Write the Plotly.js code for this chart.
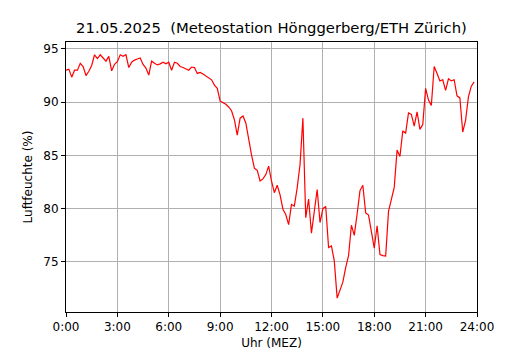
<!DOCTYPE html>
<html>
<head>
<meta charset="utf-8">
<script src="https://cdn.plot.ly/plotly-3.0.1.min.js"></script>
<style>html,body{margin:0;padding:0;background:#fff;}#chart{width:530px;height:350px;}</style>
</head>
<body>
<div id="chart"></div>
<script>
// 10-minute readings, 0:00 .. 23:50
const stepMinutes = 10;
const humidity = [
  93.0, 93.1, 92.35, 93.0, 93.0, 93.65, 93.35, 92.5, 92.9, 93.45, 94.45, 94.1,
  94.45, 94.1, 93.85, 94.3, 92.95, 93.55, 93.8, 94.45, 94.3, 94.45, 93.25, 93.75,
  93.95, 94.05, 94.15, 93.55, 93.2, 92.55, 93.85, 93.65, 93.5, 93.6, 93.75, 93.6,
  93.75, 93.0, 93.75, 93.65, 93.35, 93.25, 93.15, 93.0, 93.3, 93.25, 92.7, 92.8,
  92.65, 92.45, 92.25, 92.1, 91.6, 91.3, 90.1, 89.95, 89.8, 89.55, 89.2, 88.35,
  86.9, 88.5, 88.7, 88.05, 86.45, 85.05, 83.8, 83.6, 82.6, 82.8, 83.2, 84.0,
  82.6, 81.5, 82.2, 81.3, 79.95, 79.45, 78.5, 80.4, 80.25, 81.95, 84.15, 88.5,
  79.15, 80.9, 77.7, 79.95, 81.8, 78.7, 80.0, 80.2, 76.35, 76.5, 75.1, 71.6,
  72.45, 73.1, 74.5, 75.6, 78.45, 77.5, 79.5, 81.7, 82.2, 79.6, 79.4, 77.85,
  76.3, 78.4, 75.7, 75.6, 75.55, 79.75, 80.8, 82.0, 85.5, 84.9, 87.3, 87.1,
  89.0, 88.85, 87.75, 89.1, 87.45, 87.9, 91.3, 90.2, 89.7, 93.35, 92.7, 92.0,
  92.1, 91.1, 92.2, 92.0, 92.1, 90.6, 90.4, 87.2, 88.3, 90.5, 91.5, 91.9
];
const hours = humidity.map((_, i) => i * stepMinutes / 60);
const xTickVals = [0, 3, 6, 9, 12, 15, 18, 21, 24];
const xTickText = ["0:00", "3:00", "6:00", "9:00", "12:00", "15:00", "18:00", "21:00", "24:00"];
const yTickVals = [75, 80, 85, 90, 95];

const font = "DejaVu Sans, sans-serif";
const axisCommon = {
  showline: true, mirror: true, linecolor: "#000", linewidth: 1,
  ticks: "outside", ticklen: 4, tickwidth: 1, tickcolor: "#000",
  showgrid: true, gridcolor: "#b0b0b0", gridwidth: 1, zeroline: false,
  tickfont: {family: font, size: 12, color: "#000"}
};

Plotly.newPlot("chart", [{
  x: hours, y: humidity, type: "scatter", mode: "lines",
  line: {color: "#ff0000", width: 1.2}, hoverinfo: "skip"
}], {
  width: 530, height: 350,
  margin: {l: 66, r: 53, t: 42, b: 38},
  paper_bgcolor: "#fff", plot_bgcolor: "#fff",
  showlegend: false,
  title: {text: "21.05.2025  (Meteostation Hönggerberg/ETH Zürich)",
          font: {family: font, size: 14.8, color: "#000"},
          x: 0.5, xref: "paper", y: 1 - 28/350, yref: "container", yanchor: "middle"},
  xaxis: Object.assign({}, axisCommon, {
    range: [0, 24], tickvals: xTickVals, ticktext: xTickText,
    title: {text: "Uhr (MEZ)", font: {family: font, size: 12, color: "#000"}, standoff: 8}
  }),
  yaxis: Object.assign({}, axisCommon, {
    range: [70.3, 95.65], tickvals: yTickVals,
    title: {text: "Luftfeuchte (%)", font: {family: font, size: 12, color: "#000"}, standoff: 8}
  })
}, {staticPlot: true});
</script>
</body>
</html>
